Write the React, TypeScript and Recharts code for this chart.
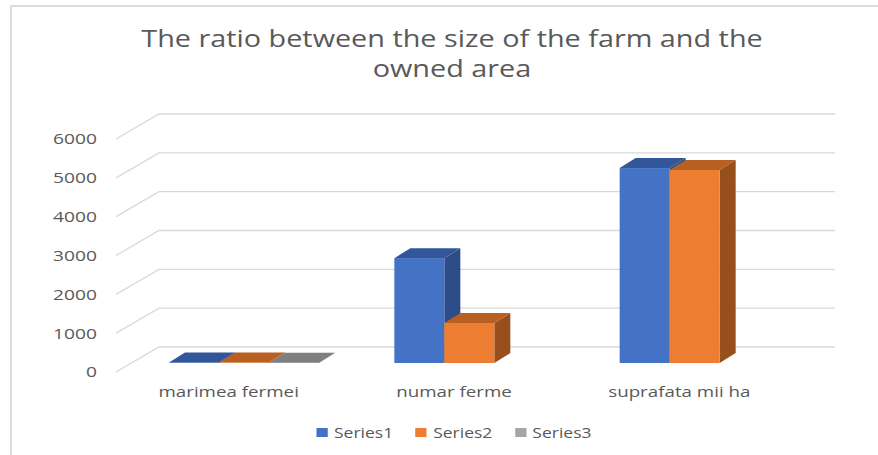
import React from 'react';
import { BarChart, Bar, XAxis, YAxis, CartesianGrid, Legend } from 'recharts';

const categories = ['marimea fermei', 'numar ferme', 'suprafata mii ha'];
const series1: (number | null)[] = [12, 2700, 5020];
const series2: (number | null)[] = [10, 1030, 4970];
const series3: (number | null)[] = [6, null, null];
const yTicks = [0, 1000, 2000, 3000, 4000, 5000, 6000];
const seriesNames = ['Series1', 'Series2', 'Series3'];

const data = categories.map((c, i) => ({
  name: c,
  Series1: series1[i],
  Series2: series2[i],
  Series3: series3[i],
}));

const colors = {
  Series1: { front: '#4472C4', top: '#31569A', side: '#2C4D88' },
  Series2: { front: '#ED7D31', top: '#B85F22', side: '#97501B' },
  Series3: { front: '#A5A5A5', top: '#7F7F7F', side: '#6E6E6E' },
} as Record<string, { front: string; top: string; side: string }>;

const SHIFT_X = 15;
const SHIFT_Y = -9;
const DEPTH_X = 16;
const DEPTH_Y = -10;
const WALL_X = 43;
const WALL_Y = -25;
const STRETCH = 1.25;

const makeShape = (key: string) => (props: any) => {
  const { x, y, width, height, payload } = props;
  if (payload == null || payload[key] == null) return <g />;
  const c = colors[key];
  const fx = x + SHIFT_X;
  const fy = y + SHIFT_Y;
  const w = width;
  const h = Math.max(height, 0);
  const top = `M${fx},${fy} L${fx + DEPTH_X},${fy + DEPTH_Y} L${fx + w + DEPTH_X},${fy + DEPTH_Y} L${fx + w},${fy} Z`;
  const side = `M${fx + w},${fy} L${fx + w + DEPTH_X},${fy + DEPTH_Y} L${fx + w + DEPTH_X},${fy + h + DEPTH_Y} L${fx + w},${fy + h} Z`;
  return (
    <g>
      <path d={side} fill={c.side} />
      <rect x={fx} y={fy} width={w} height={h} fill={c.front} />
      <path d={top} fill={c.top} />
    </g>
  );
};

const gridLine = (props: any) => {
  const { x1, y1, x2 } = props;
  return (
    <path
      key={`g-${y1}`}
      d={`M${x1},${y1} L${x1 + WALL_X},${y1 + WALL_Y} L${x2 + WALL_X},${y1 + WALL_Y}`}
      stroke="#D9D9D9"
      strokeWidth={1.3}
      fill="none"
    />
  );
};

const XTick = (props: any) => {
  const { x, y, payload } = props;
  return (
    <text
      transform={`translate(${x},${y}) scale(${STRETCH},1)`}
      textAnchor="middle"
      dy="0.71em"
      fill="#595959"
      fontFamily="Open Sans"
      fontSize={15}
    >
      {payload.value}
    </text>
  );
};

const YTick = (props: any) => {
  const { x, y, payload } = props;
  return (
    <text
      transform={`translate(${x},${y}) scale(1.28,1)`}
      textAnchor="end"
      dy="0.36em"
      fill="#595959"
      fontFamily="Open Sans"
      fontSize={15}
    >
      {payload.value}
    </text>
  );
};

const LegendContent = (props: any) => {
  const { payload } = props;
  return (
    <div
      style={{
        display: 'flex',
        justifyContent: 'center',
        alignItems: 'center',
        transform: `scaleX(${STRETCH})`,
        transformOrigin: 'center',
      }}
    >
      {(payload || []).map((p: any) => (
        <div key={p.value} style={{ display: 'flex', alignItems: 'center', margin: '0 9px' }}>
          <div style={{ width: 9, height: 9, background: colors[p.value].front, marginRight: 5 }} />
          <span style={{ fontFamily: 'Open Sans', fontSize: 14, color: '#595959' }}>{p.value}</span>
        </div>
      ))}
    </div>
  );
};

export default function App() {
  return (
    <div style={{ position: 'absolute', left: 0, top: 0, width: 878, height: 455, background: '#fff', overflow: 'hidden' }}>
      <div
        style={{
          position: 'absolute',
          left: 10,
          top: 5,
          width: 900,
          height: 500,
          borderLeft: '2px solid #DCDCDC',
          borderTop: '2px solid #DCDCDC',
        }}
      />
      <div
        style={{
          position: 'absolute',
          left: 0,
          top: 23,
          width: 904,
          textAlign: 'center',
          fontFamily: 'Open Sans',
          fontSize: 24,
          lineHeight: '30px',
          color: '#595959',
          transform: 'scaleX(1.2)',
          transformOrigin: '452px 0',
        }}
      >
        The ratio between the size of the farm and the
        <br />
        owned area
      </div>
      <div style={{ position: 'absolute', left: 0, top: 0 }}>
        <BarChart
          width={878}
          height={455}
          data={data}
          margin={{ top: 139, right: 86, bottom: 53, left: 0 }}
          barGap={0}
          barSize={50}
        >
          <CartesianGrid vertical={false} horizontal={gridLine} />
          <XAxis
            dataKey="name"
            axisLine={false}
            tickLine={false}
            tickSize={0}
            tickMargin={14}
            tick={<XTick />}
            height={30}
          />
          <YAxis
            width={116}
            domain={[0, 6000]}
            ticks={yTicks}
            axisLine={false}
            tickLine={false}
            tickSize={0}
            tickMargin={19}
            tick={<YTick />}
          />
          {seriesNames.map((s) => (
            <Bar key={s} dataKey={s} fill={colors[s].front} isAnimationActive={false} shape={makeShape(s)} />
          ))}
          <Legend
            layout="horizontal"
            verticalAlign="middle"
            align="center"
            content={<LegendContent />}
            wrapperStyle={{ top: 423, left: 0, width: 908 }}
          />
        </BarChart>
      </div>
    </div>
  );
}
